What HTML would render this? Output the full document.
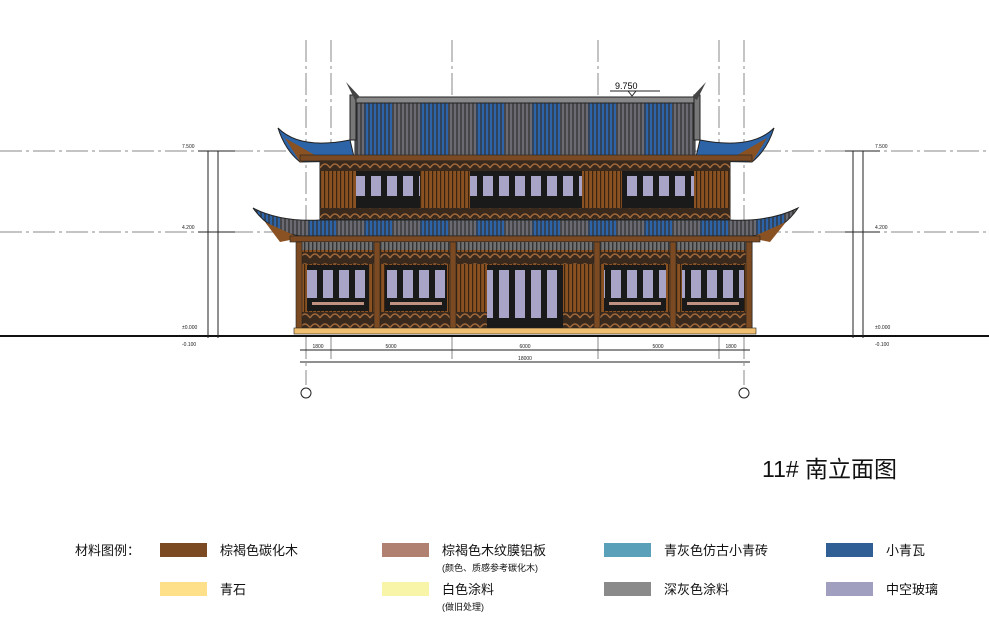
<!DOCTYPE html>
<html><head><meta charset="utf-8"><style>
body{margin:0;background:#fff;}
svg{display:block;font-family:"Liberation Sans","Noto Sans CJK SC",sans-serif;}
</style></head><body>
<svg width="989" height="637" viewBox="0 0 989 637" xmlns="http://www.w3.org/2000/svg">
<defs>
<pattern id="blue" width="56" height="10" patternUnits="userSpaceOnUse"><rect width="28" height="10" fill="#6a6a72"/><rect x="28" width="28" height="10" fill="#2d64a8"/><path d="M1 0V10M5 0V10M9 0V10M13 0V10M17 0V10M21 0V10M25 0V10M29 0V10M33 0V10M37 0V10M41 0V10M45 0V10M49 0V10M53 0V10" stroke="#333" stroke-width="1.3"/></pattern>
<pattern id="wood" width="4" height="10" patternUnits="userSpaceOnUse"><rect width="4" height="10" fill="#8a5222"/><rect width="1.2" height="10" fill="#3a2410"/></pattern>
<pattern id="grey" width="4" height="10" patternUnits="userSpaceOnUse"><rect width="4" height="10" fill="#707070"/><rect width="1.4" height="10" fill="#333"/></pattern>
<pattern id="frieze" width="10" height="10" patternUnits="userSpaceOnUse"><rect width="10" height="10" fill="#3a2a1e"/><path d="M0 8 Q5 0 10 8" stroke="#a0683a" stroke-width="1.5" fill="none"/></pattern>
<pattern id="win" width="16" height="10" patternUnits="userSpaceOnUse"><rect width="16" height="10" fill="#1a1a1a"/><rect x="3" width="10" height="10" fill="#a8a4c8"/></pattern>
</defs>

<g stroke="#888" stroke-width="1" stroke-dasharray="22,4,3,4">
<line x1="0" y1="151" x2="989" y2="151"/>
<line x1="0" y1="232" x2="989" y2="232"/>
<line x1="306" y1="40" x2="306" y2="385"/>
<line x1="331" y1="40" x2="331" y2="360"/>
<line x1="452" y1="40" x2="452" y2="360"/>
<line x1="598" y1="40" x2="598" y2="360"/>
<line x1="719" y1="40" x2="719" y2="360"/>
<line x1="744" y1="40" x2="744" y2="385"/>
</g>

<rect x="352" y="97" width="348" height="6" fill="#888" stroke="#222"/>
<rect x="355" y="103" width="340" height="58" fill="url(#blue)" stroke="#222"/>
<rect x="350" y="95" width="6" height="45" fill="#777" stroke="#222"/>
<rect x="694" y="95" width="6" height="45" fill="#777" stroke="#222"/>
<path d="M346 82 L355 100 L360 97 Z M706 82 L697 100 L692 97 Z" fill="#444"/>
<path d="M278 128 Q300 150 350 140 L355 161 L300 162 Q285 150 278 128 Z" fill="#2d64a8" stroke="#222"/>
<path d="M774 128 Q752 150 700 140 L695 161 L752 162 Q767 150 774 128 Z" fill="#2d64a8" stroke="#222"/>
<path d="M285 138 L300 162 L320 158 Z M767 138 L752 162 L732 158 Z" fill="#8a5222"/>
<rect x="300" y="155" width="452" height="6" fill="#7b4a22" stroke="#222" stroke-width=".6"/>

<rect x="320" y="161" width="410" height="58" fill="url(#wood)" stroke="#222"/>
<rect x="320" y="161" width="410" height="10" fill="url(#frieze)"/>
<rect x="320" y="208" width="410" height="10" fill="url(#frieze)"/>
<g>
<rect x="356" y="171" width="64" height="37" fill="url(#win)"/>
<rect x="470" y="171" width="112" height="37" fill="url(#win)"/>
<rect x="622" y="171" width="72" height="37" fill="url(#win)"/>
</g>
<g fill="#1a1a1a">
<rect x="356" y="171" width="64" height="5"/><rect x="470" y="171" width="112" height="5"/><rect x="622" y="171" width="72" height="5"/>
<rect x="356" y="196" width="64" height="12"/><rect x="470" y="196" width="112" height="12"/><rect x="622" y="196" width="72" height="12"/>
</g>

<path d="M253 208 Q270 232 300 236 L752 236 Q782 232 798 208 Q770 222 730 220 L320 220 Q280 222 253 208 Z" fill="url(#blue)" stroke="#222"/>
<path d="M265 222 L280 242 L300 238 Z M786 222 L770 242 L750 238 Z" fill="#8a5222"/>
<rect x="290" y="236" width="470" height="6" fill="#7b4a22" stroke="#222" stroke-width=".6"/>

<rect x="297" y="242" width="455" height="88" fill="url(#wood)" stroke="#222"/>
<rect x="297" y="242" width="455" height="8" fill="url(#grey)"/>
<rect x="300" y="252" width="450" height="12" fill="url(#frieze)"/>
<rect x="300" y="312" width="450" height="16" fill="url(#frieze)"/>
<g fill="url(#win)">
<rect x="307" y="265" width="62" height="46"/><rect x="385" y="265" width="62" height="46"/>
<rect x="487" y="265" width="76" height="63"/>
<rect x="604" y="265" width="62" height="46"/><rect x="682" y="265" width="62" height="46"/>
</g>
<g fill="#1a1a1a">
<rect x="307" y="265" width="62" height="5"/><rect x="385" y="265" width="62" height="5"/><rect x="487" y="265" width="76" height="5"/><rect x="604" y="265" width="62" height="5"/><rect x="682" y="265" width="62" height="5"/>
<rect x="307" y="298" width="62" height="13"/><rect x="385" y="298" width="62" height="13"/><rect x="487" y="318" width="76" height="10"/><rect x="604" y="298" width="62" height="13"/><rect x="682" y="298" width="62" height="13"/>
</g>
<g fill="#c09080">
<rect x="312" y="302" width="52" height="3"/><rect x="390" y="302" width="52" height="3"/><rect x="609" y="302" width="52" height="3"/><rect x="687" y="302" width="52" height="3"/>
</g>
<g fill="#7b4a22" stroke="#222" stroke-width=".6">
<rect x="296" y="242" width="6" height="88"/><rect x="374" y="242" width="6" height="88"/><rect x="450" y="242" width="6" height="88"/>
<rect x="594" y="242" width="6" height="88"/><rect x="670" y="242" width="6" height="88"/><rect x="746" y="242" width="6" height="88"/>
</g>
<rect x="294" y="328" width="462" height="6" fill="#f0c070" stroke="#222" stroke-width=".6"/>

<line x1="0" y1="336" x2="989" y2="336" stroke="#111" stroke-width="2"/>

<text x="615" y="89" font-size="9">9.750</text>
<path d="M610 91 L660 91 M628 91 L632 96 L636 91" stroke="#222" fill="none"/>

<g stroke="#222" stroke-width="1" fill="none">
<line x1="208" y1="151" x2="208" y2="338"/><line x1="218" y1="151" x2="218" y2="338"/>
<line x1="198" y1="151" x2="235" y2="151"/><line x1="198" y1="232" x2="235" y2="232"/>
<line x1="853" y1="151" x2="853" y2="338"/><line x1="863" y1="151" x2="863" y2="338"/>
<line x1="845" y1="151" x2="880" y2="151"/><line x1="845" y1="232" x2="880" y2="232"/>
</g>
<g font-size="5" fill="#222">
<text x="182" y="148">7.500</text><text x="182" y="229">4.200</text><text x="182" y="329">±0.000</text><text x="182" y="346">-0.100</text>
<text x="875" y="148">7.500</text><text x="875" y="229">4.200</text><text x="875" y="329">±0.000</text><text x="875" y="346">-0.100</text>
</g>

<g stroke="#222" stroke-width="1">
<line x1="300" y1="350" x2="750" y2="350"/><line x1="300" y1="362" x2="750" y2="362"/>
</g>
<g font-size="5" fill="#222" text-anchor="middle">
<text x="318" y="348">1800</text><text x="391" y="348">5000</text><text x="525" y="348">6000</text><text x="658" y="348">5000</text><text x="731" y="348">1800</text>
<text x="525" y="360">18000</text>
</g>
<g stroke="#222" fill="#fff"><circle cx="306" cy="393" r="5"/><circle cx="744" cy="393" r="5"/></g>

<text x="762" y="477" font-size="23" fill="#111">11#  南立面图</text>

<g font-size="13" fill="#111">
<text x="75" y="555">材料图例：</text>
<rect x="160" y="543" width="47" height="14" fill="#7b4a22"/><text x="220" y="555">棕褐色碳化木</text>
<rect x="382" y="543" width="47" height="14" fill="#b08070"/><text x="442" y="555">棕褐色木纹膜铝板</text>
<rect x="604" y="543" width="47" height="14" fill="#5aa0b8"/><text x="664" y="555">青灰色仿古小青砖</text>
<rect x="826" y="543" width="47" height="14" fill="#2f5f95"/><text x="886" y="555">小青瓦</text>
<rect x="160" y="582" width="47" height="14" fill="#ffe08a"/><text x="220" y="594">青石</text>
<rect x="382" y="582" width="47" height="14" fill="#f8f4a8"/><text x="442" y="594">白色涂料</text>
<rect x="604" y="582" width="47" height="14" fill="#8a8a8a"/><text x="664" y="594">深灰色涂料</text>
<rect x="826" y="582" width="47" height="14" fill="#a09fbf"/><text x="886" y="594">中空玻璃</text>
<text x="442" y="571" font-size="9">(颜色、质感参考碳化木)</text>
<text x="442" y="610" font-size="9">(做旧处理)</text>
</g>
</svg>
</body></html>
